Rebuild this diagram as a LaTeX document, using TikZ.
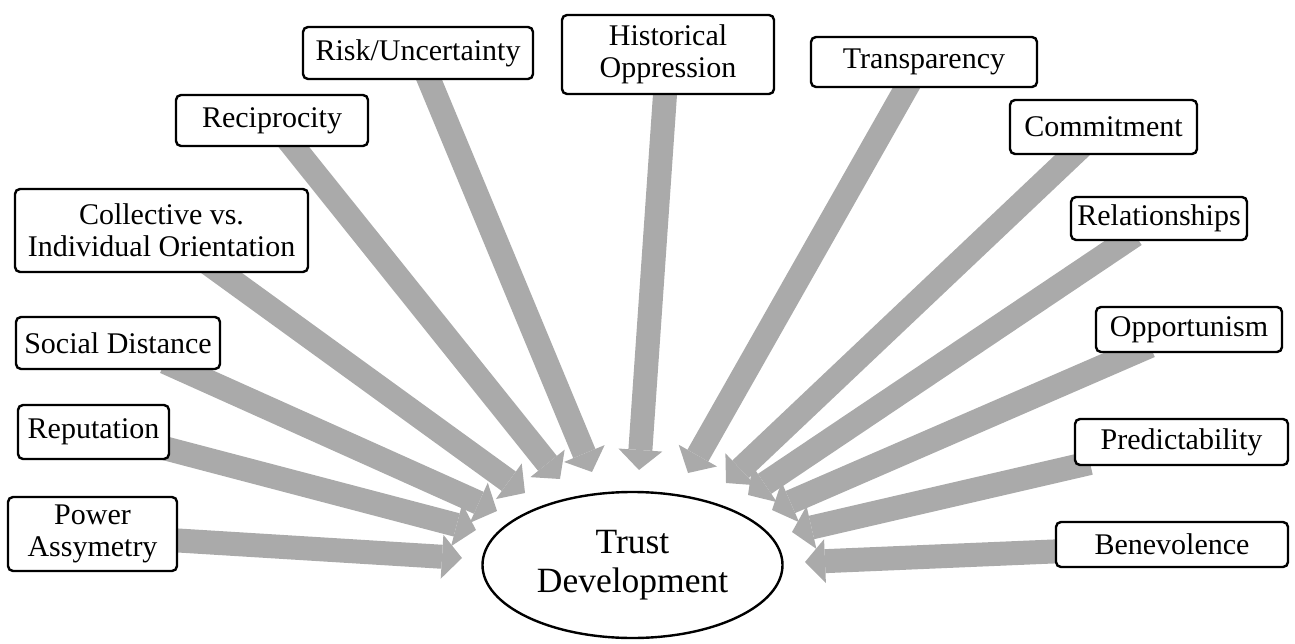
\documentclass[tikz,border=0pt]{standalone}
\usepackage{fontspec}
\setmainfont{Liberation Serif}
\usetikzlibrary{arrows.meta,shapes.geometric}
\definecolor{arrgray}{RGB}{170,170,170}
\pgfdeclarelayer{background}
\pgfsetlayers{background,main}
\begin{document}
\begin{tikzpicture}[x=1pt,y=-1pt,
  factor/.style={draw=black, line width=2.4pt, rounded corners=5pt, fill=white,
    align=center, inner sep=0pt, font=\fontsize{30}{32}\selectfont},
  flow/.style={draw=arrgray, line width=24pt,
    -{Triangle[width=44pt,length=20pt,line width=0pt]}},
  core/.style={draw=black, ellipse, line width=2.4pt, fill=white, inner sep=0pt,
    align=center, font=\fontsize{35.5}{39}\selectfont}
]
\useasboundingbox (0,0) rectangle (1295,644);

% factor boxes
\node[factor, minimum width=230pt, minimum height=52pt] (risk) at (418,53) {Risk/Uncertainty};
\node[factor, minimum width=212pt, minimum height=79pt] (hist) at (668,54.5) {Historical\\Oppression};
\node[factor, minimum width=192pt, minimum height=51pt] (recip) at (272,120.5) {Reciprocity};
\node[factor, minimum width=293pt, minimum height=83pt] (coll) at (161.5,230.5) {Collective vs.\\Individual Orientation};
\node[factor, minimum width=226pt, minimum height=50pt] (transp) at (924,62) {Transparency};
\node[factor, minimum width=187pt, minimum height=54pt] (commit) at (1103.5,127) {Commitment};
\node[factor, minimum width=176pt, minimum height=43pt] (relat) at (1159,218.5) {Relationships};
\node[factor, minimum width=186pt, minimum height=45pt] (oppor) at (1189,329.5) {Opportunism};
\node[factor, minimum width=204pt, minimum height=52pt] (social) at (118,343) {Social Distance};
\node[factor, minimum width=151pt, minimum height=54pt] (reput) at (93.5,432) {Reputation};
\node[factor, minimum width=169pt, minimum height=74pt] (power) at (92.5,534) {Power\\Assymetry};
\node[factor, minimum width=213pt, minimum height=46pt] (pred) at (1181.5,442) {Predictability};
\node[factor, minimum width=232pt, minimum height=45pt] (benev) at (1172,544.5) {Benevolence};

% central ellipse
\node[core, minimum width=300pt, minimum height=146pt] (trust) at (632.5,565) {Trust\\Development};

% arrow start points (hidden under the boxes) and tips
\coordinate (powerS) at (170,540);   \coordinate (powerT) at (462,558);
\coordinate (reputS) at (160,447);   \coordinate (reputT) at (476,530);
\coordinate (socialS) at (165,362);  \coordinate (socialT) at (497,511);
\coordinate (collS) at (205,261);    \coordinate (collT) at (525,493);
\coordinate (recipS) at (285,136);   \coordinate (recipT) at (560,479);
\coordinate (riskS) at (425,70);     \coordinate (riskT) at (592,472);
\coordinate (histS) at (666,80);     \coordinate (histT) at (639,470);
\coordinate (transpS) at (912,78);   \coordinate (transpT) at (688,473);
\coordinate (commitS) at (1082,146); \coordinate (commitT) at (726,483);
\coordinate (relatS) at (1135,235);  \coordinate (relatT) at (748,495);
\coordinate (opporS) at (1150,346);  \coordinate (opporT) at (772,510);
\coordinate (predS) at (1090,463);   \coordinate (predT) at (792,532);
\coordinate (benevS) at (1065,551);  \coordinate (benevT) at (805,562);

\begin{pgfonlayer}{background}
\draw[flow] (powerS) -- (powerT);
\draw[flow] (reputS) -- (reputT);
\draw[flow] (socialS) -- (socialT);
\draw[flow] (collS) -- (collT);
\draw[flow] (recipS) -- (recipT);
\draw[flow] (riskS) -- (riskT);
\draw[flow] (histS) -- (histT);
\draw[flow] (transpS) -- (transpT);
\draw[flow] (commitS) -- (commitT);
\draw[flow] (relatS) -- (relatT);
\draw[flow] (opporS) -- (opporT);
\draw[flow] (predS) -- (predT);
\draw[flow] (benevS) -- (benevT);
\end{pgfonlayer}
\end{tikzpicture}
\end{document}
